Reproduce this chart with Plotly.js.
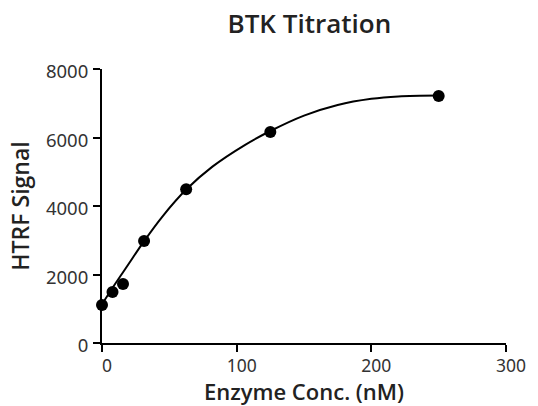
<!DOCTYPE html>
<html>
<head>
<meta charset="utf-8">
<script src="https://cdn.plot.ly/plotly-3.0.1.min.js"></script>
<style>html,body{margin:0;padding:0;background:#fff;}#chart{width:538px;height:406px;}</style>
</head>
<body>
<div id="chart"></div>
<script>
// Measured data points
const concNM = [0, 7.8, 15.6, 31.25, 62.5, 125, 250];
const signal = [1110, 1490, 1720, 2980, 4490, 6160, 7210];

// Fitted curve
const fitConc = [0, 8, 15, 20, 31, 45, 62.5, 82, 106, 125, 150, 175, 200, 220, 250];
const fitSignal = [1130, 1620, 2030, 2320, 2960, 3700, 4480, 5150, 5780, 6190, 6640, 6950, 7130, 7200, 7225];

const xTicks = [0, 100, 200, 300];
const yTicks = [0, 2000, 4000, 6000, 8000];

const font = "'Noto Sans', 'Open Sans', sans-serif";
const titleFont = "'Open Sans', 'Noto Sans', sans-serif";

const traces = [
  {x: fitConc, y: fitSignal, mode: 'lines', line: {color: '#000', width: 2, shape: 'spline', smoothing: 1}, hoverinfo: 'skip', cliponaxis: false},
  {x: concNM, y: signal, mode: 'markers', marker: {color: '#000', size: 12}, cliponaxis: false}
];

const layout = {
  width: 538, height: 406,
  margin: {l: 102, r: 32, t: 69, b: 63},
  paper_bgcolor: '#fff', plot_bgcolor: '#fff',
  showlegend: false,
  font: {family: font, color: '#222'},
  title: {text: 'BTK Titration', font: {family: titleFont, size: 26, color: '#222', weight: 600}, x: 0.575, xanchor: 'center', y: 0.94, yanchor: 'middle'},
  xaxis: {
    range: [0, 300], tickvals: xTicks, ticktext: xTicks.map(String),
    showgrid: false, zeroline: false, showline: true, linecolor: '#000', linewidth: 2,
    ticks: 'outside', ticklen: 7, tickwidth: 2, tickcolor: '#000',
    ticklabelshift: 5, ticklabelstandoff: -1,
    tickfont: {family: font, size: 17.5, color: '#333'},
    title: {text: 'Enzyme Conc. (nM)', font: {family: titleFont, size: 22, color: '#222', weight: 600}, standoff: 13}
  },
  yaxis: {
    range: [0, 8000], tickvals: yTicks, ticktext: yTicks.map(String),
    showgrid: false, zeroline: false, showline: true, linecolor: '#000', linewidth: 2,
    ticks: 'outside', ticklen: 7, tickwidth: 2, tickcolor: '#000',
    ticklabelshift: 3, ticklabelstandoff: 1,
    tickfont: {family: font, size: 18.5, color: '#333'},
    title: {text: 'HTRF Signal', font: {family: titleFont, size: 23, color: '#222', weight: 600}, standoff: 10}
  }
};

Plotly.newPlot('chart', traces, layout, {displayModeBar: false, staticPlot: true});
</script>
</body>
</html>
